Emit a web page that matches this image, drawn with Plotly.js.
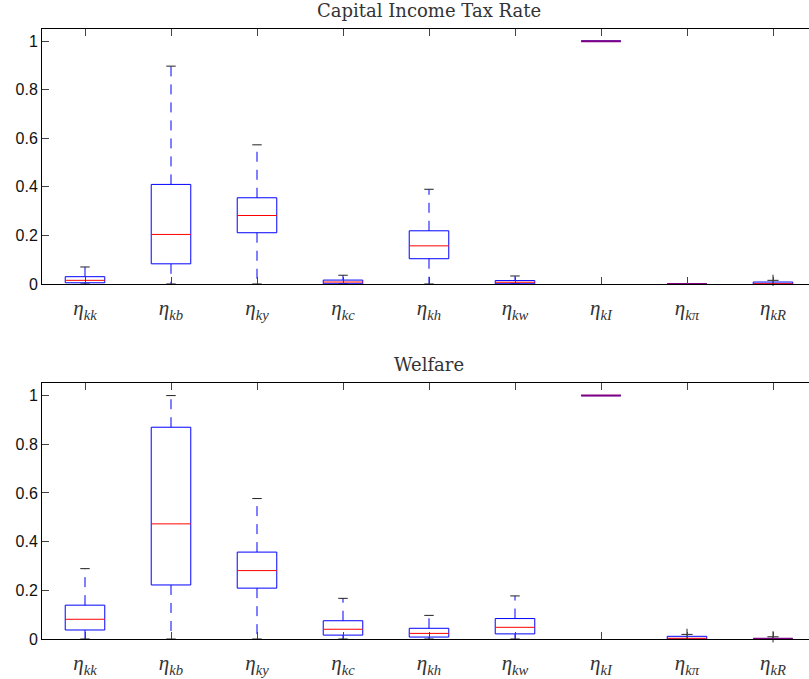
<!DOCTYPE html>
<html>
<head>
<meta charset="utf-8">
<script src="https://cdn.plot.ly/plotly-3.0.1.min.js"></script>
<style>
html, body { margin: 0; padding: 0; overflow: hidden; background: #fff; }
#chart { width: 830px; height: 679px; }
</style>
</head>
<body>
<div id="chart"></div>
<script>
// Categories (tick labels)
const categories = ["η<sub>kk</sub>", "η<sub>kb</sub>", "η<sub>ky</sub>", "η<sub>kc</sub>", "η<sub>kh</sub>",
                    "η<sub>kw</sub>", "η<sub>kI</sub>", "η<sub>kπ</sub>", "η<sub>kR</sub>"];

// Panel 1: Capital Income Tax Rate
const taxLow    = [0.000, 0.000, 0.000, 0.000, 0.000, 0.000, 1.000, 0.000, 0.000];
const taxQ1     = [0.005, 0.083, 0.211, 0.001, 0.104, 0.001, 1.000, 0.000, 0.000];
const taxMedian = [0.015, 0.204, 0.282, 0.008, 0.157, 0.007, 1.000, 0.000, 0.001];
const taxQ3     = [0.030, 0.410, 0.355, 0.016, 0.219, 0.014, 1.000, 0.000, 0.008];
const taxHigh   = [0.070, 0.897, 0.573, 0.036, 0.390, 0.033, 1.000, 0.000, 0.008];
const taxOutX   = [9];
const taxOutY   = [0.015];

// Panel 2: Welfare
const welLow    = [0.000, 0.000, 0.000, 0.000, 0.000, 0.000, 1.000, 0.000, 0.000];
const welQ1     = [0.037, 0.222, 0.209, 0.016, 0.008, 0.021, 1.000, 0.000, 0.000];
const welMedian = [0.081, 0.473, 0.281, 0.040, 0.023, 0.048, 1.000, 0.003, 0.001];
const welQ3     = [0.139, 0.870, 0.357, 0.075, 0.044, 0.084, 1.000, 0.011, 0.002];
const welHigh   = [0.289, 1.000, 0.577, 0.167, 0.097, 0.177, 1.000, 0.011, 0.002];
const welOutX   = [8, 9];
const welOutY   = [0.019, 0.009];

const yTicks = [0, 0.2, 0.4, 0.6, 0.8, 1];
const yTickText = ["0", "0.2", "0.4", "0.6", "0.8", "1"];

const HALF = 0.23;   // half box width (category units)
const CAP = 0.055;   // half cap width

function panelTraces(lo, q1, med, q3, hi, outX, outY, xa, ya) {
  const bx = [], by = [];
  const wx = [], wy = [];
  const cx = [], cy = [];
  const mx = [], my = [];
  const dx = [], dy = [];
  for (let i = 0; i < q1.length; i++) {
    const c = i + 1;
    bx.push(c - HALF, c + HALF, c + HALF, c - HALF, c - HALF, null);
    by.push(q1[i], q1[i], q3[i], q3[i], q1[i], null);
    if (hi[i] > q3[i]) {
      wx.push(c, c, null); wy.push(q3[i], hi[i], null);
      cx.push(c - CAP, c + CAP, null); cy.push(hi[i], hi[i], null);
    }
    if (lo[i] < q1[i]) {
      wx.push(c, c, null); wy.push(q1[i], lo[i], null);
      cx.push(c - CAP, c + CAP, null); cy.push(lo[i], lo[i], null);
    }
    if (q3[i] - q1[i] < 0.003) {
      dx.push(c - HALF, c + HALF, null); dy.push(med[i], med[i], null);
    } else {
      mx.push(c - HALF, c + HALF, null); my.push(med[i], med[i], null);
    }
  }
  const common = {type: 'scatter', mode: 'lines', xaxis: xa, yaxis: ya, hoverinfo: 'skip', showlegend: false, cliponaxis: false};
  return [
    Object.assign({}, common, {x: wx, y: wy, line: {color: '#0000ff', width: 1, dash: '10px,8px'}}),
    Object.assign({}, common, {x: cx, y: cy, line: {color: '#222222', width: 1}}),
    Object.assign({}, common, {x: bx, y: by, line: {color: '#0000ff', width: 1}}),
    Object.assign({}, common, {x: mx, y: my, line: {color: '#ff0000', width: 1}}),
    Object.assign({}, common, {x: dx, y: dy, line: {color: '#800080', width: 2}}),
    {type: 'scatter', mode: 'markers', x: outX, y: outY, xaxis: xa, yaxis: ya, showlegend: false, hoverinfo: 'skip',
     cliponaxis: false,
     marker: {symbol: 'cross-thin', size: 8, line: {color: '#222222', width: 1}}}
  ];
}

const traces = [].concat(
  panelTraces(taxLow, taxQ1, taxMedian, taxQ3, taxHigh, taxOutX, taxOutY, 'x', 'y'),
  panelTraces(welLow, welQ1, welMedian, welQ3, welHigh, welOutX, welOutY, 'x2', 'y2')
);

const serif = 'DejaVu Serif, Liberation Serif, serif';
const xCommon = {
  range: [0.5, 9.5], tickvals: [1,2,3,4,5,6,7,8,9], ticktext: categories,
  ticks: 'inside', ticklen: 7, tickcolor: '#444', tickwidth: 1,
  showline: true, linecolor: '#000', linewidth: 1, mirror: 'ticks',
  showgrid: false, zeroline: false, fixedrange: true,
  ticklabelstandoff: 5,
  tickfont: {family: 'Liberation Serif, DejaVu Serif, serif', size: 21, style: 'italic', color: '#333'}
};
const yCommon = {
  range: [0, 1.05], tickvals: yTicks, ticktext: yTickText,
  ticks: 'inside', ticklen: 7, tickcolor: '#444', tickwidth: 1,
  showline: true, linecolor: '#000', linewidth: 1, mirror: 'ticks',
  showgrid: false, zeroline: false, fixedrange: true,
  tickfont: {family: 'Liberation Sans, Arial, sans-serif', size: 16, color: '#111'}
};

const layout = {
  width: 830, height: 679,
  margin: {l: 42, r: 14, t: 29, b: 40},
  paper_bgcolor: '#fff', plot_bgcolor: '#fff',
  xaxis: Object.assign({}, xCommon, {anchor: 'y', domain: [0, 1]}),
  yaxis: Object.assign({}, yCommon, {anchor: 'x', domain: [0.582, 1]}),
  xaxis2: Object.assign({}, xCommon, {anchor: 'y2', domain: [0, 1]}),
  yaxis2: Object.assign({}, yCommon, {anchor: 'x2', domain: [0, 0.419]}),
  annotations: [
    {text: 'Capital Income Tax Rate', xref: 'paper', yref: 'paper', x: 0.5, y: 1, yanchor: 'middle', xanchor: 'center',
     showarrow: false, yshift: 19, font: {family: serif, size: 18, color: '#333'}},
    {text: 'Welfare', xref: 'paper', yref: 'paper', x: 0.5, y: 0.419, yanchor: 'middle', xanchor: 'center',
     showarrow: false, yshift: 19, font: {family: serif, size: 18, color: '#333'}}
  ]
};

Plotly.newPlot('chart', traces, layout, {displayModeBar: false, staticPlot: true});
</script>
</body>
</html>
